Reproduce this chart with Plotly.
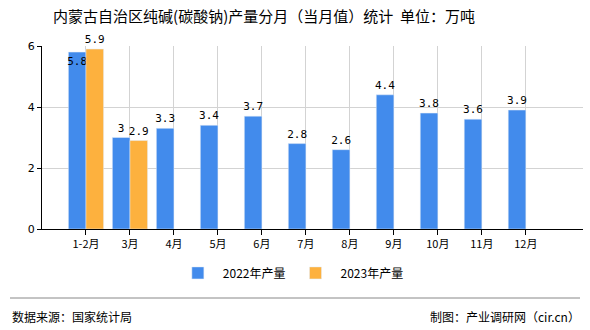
import plotly.graph_objects as go

months = ["1-2月", "3月", "4月", "5月", "6月", "7月", "8月", "9月", "10月", "11月", "12月"]
v2022 = [5.8, 3.0, 3.3, 3.4, 3.7, 2.8, 2.6, 4.4, 3.8, 3.6, 3.9]
v2023 = [5.9, 2.9, None, None, None, None, None, None, None, None, None]
y_ticks = [0, 2, 4, 6]

font_cn = "Noto Sans CJK SC"

def fmt(v):
    if v is None:
        return ""
    return ("%g" % v)

pos2022 = ["inside" if i == 0 else "outside" for i in range(len(v2022))]

fig = go.Figure()
fig.add_trace(go.Bar(
    x=months, y=v2022, name="2022年产量", marker_color="#428BEC",
    text=[fmt(v) for v in v2022], textposition=pos2022,
    insidetextanchor="end", textangle=0, constraintext="none",
    textfont=dict(family="DejaVu Sans Mono", size=11, color="#000000"),
    cliponaxis=False,
))
fig.add_trace(go.Bar(
    x=months, y=v2023, name="2023年产量", marker_color="#FDB13E",
    text=[fmt(v) for v in v2023], textposition="outside", textangle=0,
    constraintext="none",
    textfont=dict(family="DejaVu Sans Mono", size=11, color="#000000"),
    cliponaxis=False,
))

fig.update_layout(
    width=590, height=330,
    margin=dict(l=42, r=7, t=46, b=101),
    paper_bgcolor="white", plot_bgcolor="white",
    barmode="group", bargap=0.2, bargroupgap=0,
    showlegend=True,
    legend=dict(orientation="h", x=0.46, xanchor="center", y=-0.24, yanchor="middle",
                font=dict(family=font_cn, size=12, color="#000000"),
                itemwidth=40, traceorder="normal"),
    title=dict(text="内蒙古自治区纯碱(碳酸钠)产量分月（当月值）统计  单位：万吨",
               x=264/590, xanchor="center", y=0.95, yanchor="middle",
               font=dict(family=font_cn, size=15, color="#000000")),
    uniformtext=dict(minsize=11, mode="show"),
)
fig.update_xaxes(
    type="category", range=[-1, 11.3],
    showgrid=True, gridcolor="#D3D3D3", gridwidth=1,
    showline=True, linecolor="#000000", linewidth=1,
    ticks="outside", ticklen=5, tickcolor="#000000",
    tickfont=dict(family=font_cn, size=11, color="#000000"),
)
fig.update_yaxes(
    range=[0, 6], tickvals=y_ticks,
    showgrid=True, gridcolor="#D3D3D3", gridwidth=1,
    showline=True, linecolor="#000000", linewidth=1,
    ticks="outside", ticklen=4, tickcolor="#000000",
    tickfont=dict(family="DejaVu Sans", size=11, color="#000000"),
    zeroline=False,
)

fig.add_shape(type="line", xref="paper", yref="paper",
              x0=-32/541, x1=(580-42)/541, y0=-(298-229)/183, y1=-(298-229)/183,
              line=dict(color="#888888", width=1))
fig.add_annotation(text="数据来源：国家统计局", xref="paper", yref="paper",
                   x=-32/541, y=-(316-229)/183, xanchor="left", yanchor="middle",
                   showarrow=False, font=dict(family=font_cn, size=12, color="#000000"))
fig.add_annotation(text="制图：产业调研网（cir.cn）", xref="paper", yref="paper",
                   x=(582-42)/541, y=-(316-229)/183, xanchor="right", yanchor="middle",
                   showarrow=False, font=dict(family=font_cn, size=12, color="#000000"))

fig.write_html("out.html")
